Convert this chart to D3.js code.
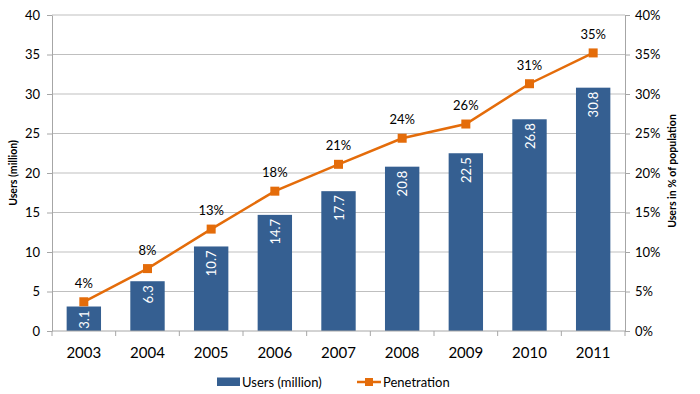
<!DOCTYPE html>
<html>
  <head>
    <meta charset="UTF-8">
    <title>Users and penetration</title>
    <style>
    body { margin: 0; background: #fff; }
    svg { display: block; font-family: Lato, "Open Sans", sans-serif; }
    .grid line { stroke: #bfbfbf; stroke-width: 1px; }
    .axis path, .axis line { stroke: #a6a6a6; }
    .axis text { fill: #000; }
    </style>
  </head>
  <body>
    <svg width="700" height="394"></svg>
    <script src="https://d3js.org/d3.v7.min.js"></script>
    <script>
var years = ["2003", "2004", "2005", "2006", "2007", "2008", "2009", "2010", "2011"];
var users = [3.1, 6.3, 10.7, 14.7, 17.7, 20.8, 22.5, 26.8, 30.8];
var penetration = [3.7, 7.9, 12.9, 17.7, 21.1, 24.4, 26.2, 31.3, 35.2];
var penLabels = ["4%", "8%", "13%", "18%", "21%", "24%", "26%", "31%", "35%"];
var leftTicks = [0, 5, 10, 15, 20, 25, 30, 35, 40];
var rightTicks = [0, 5, 10, 15, 20, 25, 30, 35, 40];

var barColor = "#355f91",
    lineColor = "#e46c0a";

var svg = d3.select("svg"),
    margin = {left: 52, right: 75, top: 15, bottom: 63},
    width = 700 - margin.left - margin.right,
    height = 394 - margin.top - margin.bottom;

var g = svg.append("g").attr("transform", "translate(" + margin.left + "," + margin.top + ")");

var x = d3.scaleBand().domain(years).range([0, width]).paddingInner(0.46).paddingOuter(0.23);
var xBand = d3.scaleBand().domain(years).range([0, width]);
var y = d3.scaleLinear().domain([0, 40]).range([height, 0]);
var y2 = d3.scaleLinear().domain([0, 40]).range([height, 0]);

// gridlines
g.append("g").attr("class", "grid")
  .selectAll("line").data(leftTicks.slice(1)).join("line")
    .attr("x1", 0).attr("x2", width)
    .attr("y1", d => y(d)).attr("y2", d => y(d));

// bars
g.selectAll("rect.bar").data(years).join("rect")
    .attr("class", "bar")
    .attr("x", d => x(d))
    .attr("width", x.bandwidth())
    .attr("y", (d, i) => y(users[i]))
    .attr("height", (d, i) => height - y(users[i]))
    .attr("fill", barColor);

// bar labels (rotated, white)
g.selectAll("text.barlabel").data(years).join("text")
    .attr("class", "barlabel")
    .attr("transform", (d, i) => "translate(" + (x(d) + x.bandwidth() / 2 + 5) + "," + (y(users[i]) + 4) + ") rotate(-90)")
    .attr("text-anchor", "end")
    .attr("font-size", 13)
    .attr("fill", "#fff")
    .text((d, i) => users[i]);

// axes
var leftAxis = g.append("g").attr("class", "axis")
    .call(d3.axisLeft(y).tickValues(leftTicks).tickSize(5).tickPadding(7).tickSizeOuter(0));
leftAxis.selectAll("text").attr("font-size", 13).attr("font-family", "Lato, sans-serif");

var rightAxis = g.append("g").attr("class", "axis")
    .attr("transform", "translate(" + width + ",0)")
    .call(d3.axisRight(y2).tickValues(rightTicks).tickSize(5).tickPadding(5).tickSizeOuter(0).tickFormat(d => d + "%"));
rightAxis.selectAll("text").attr("font-size", 13).attr("font-family", "Lato, sans-serif");

var bottomAxis = g.append("g").attr("class", "axis")
    .attr("transform", "translate(0," + height + ")");
bottomAxis.append("line").attr("x1", 0).attr("x2", width).attr("stroke", "#a6a6a6");
bottomAxis.selectAll("line.tick").data(years.concat(["end"])).join("line")
    .attr("class", "tick")
    .attr("x1", (d, i) => i * xBand.step()).attr("x2", (d, i) => i * xBand.step())
    .attr("y1", 0).attr("y2", 5)
    .attr("stroke", "#a6a6a6");
bottomAxis.selectAll("text").data(years).join("text")
    .attr("x", d => xBand(d) + xBand.bandwidth() / 2)
    .attr("y", 27)
    .attr("text-anchor", "middle")
    .attr("font-size", 15)
    .text(d => d);

// penetration line
var line = d3.line()
    .x((d, i) => x(years[i]) + x.bandwidth() / 2)
    .y(d => y2(d));

g.append("path").datum(penetration)
    .attr("d", line)
    .attr("fill", "none")
    .attr("stroke", lineColor)
    .attr("stroke-width", 2.5);

g.selectAll("rect.marker").data(penetration).join("rect")
    .attr("class", "marker")
    .attr("x", (d, i) => x(years[i]) + x.bandwidth() / 2 - 4.5)
    .attr("y", d => y2(d) - 4.5)
    .attr("width", 9).attr("height", 9)
    .attr("fill", lineColor);

g.selectAll("text.penlabel").data(penetration).join("text")
    .attr("class", "penlabel")
    .attr("x", (d, i) => x(years[i]) + x.bandwidth() / 2)
    .attr("y", d => y2(d) - 14)
    .attr("text-anchor", "middle")
    .attr("font-size", 13)
    .text((d, i) => penLabels[i]);

// axis titles
svg.append("text")
    .attr("transform", "translate(17," + (margin.top + height / 2) + ") rotate(-90)")
    .attr("text-anchor", "middle")
    .attr("font-size", 10.5)
    .attr("font-weight", "bold")
    .text("Users (million)");

svg.append("text")
    .attr("transform", "translate(676," + (margin.top + height / 2 - 2) + ") rotate(-90)")
    .attr("text-anchor", "middle")
    .attr("font-size", 10.5)
    .attr("font-weight", "bold")
    .text("Users in % of population");

// legend
var legend = svg.append("g").attr("transform", "translate(0,382)");
legend.append("rect").attr("x", 217).attr("y", -4.5).attr("width", 23).attr("height", 8.5).attr("fill", barColor);
legend.append("text").attr("x", 242).attr("y", 4.5).attr("font-size", 13).text("Users (million)");
legend.append("line").attr("x1", 357).attr("x2", 381).attr("y1", 0).attr("y2", 0)
    .attr("stroke", lineColor).attr("stroke-width", 2.5);
legend.append("rect").attr("x", 365).attr("y", -4).attr("width", 8).attr("height", 8).attr("fill", lineColor);
legend.append("text").attr("x", 383).attr("y", 4.5).attr("font-size", 13).text("Penetration");
    </script>
  </body>
</html>
